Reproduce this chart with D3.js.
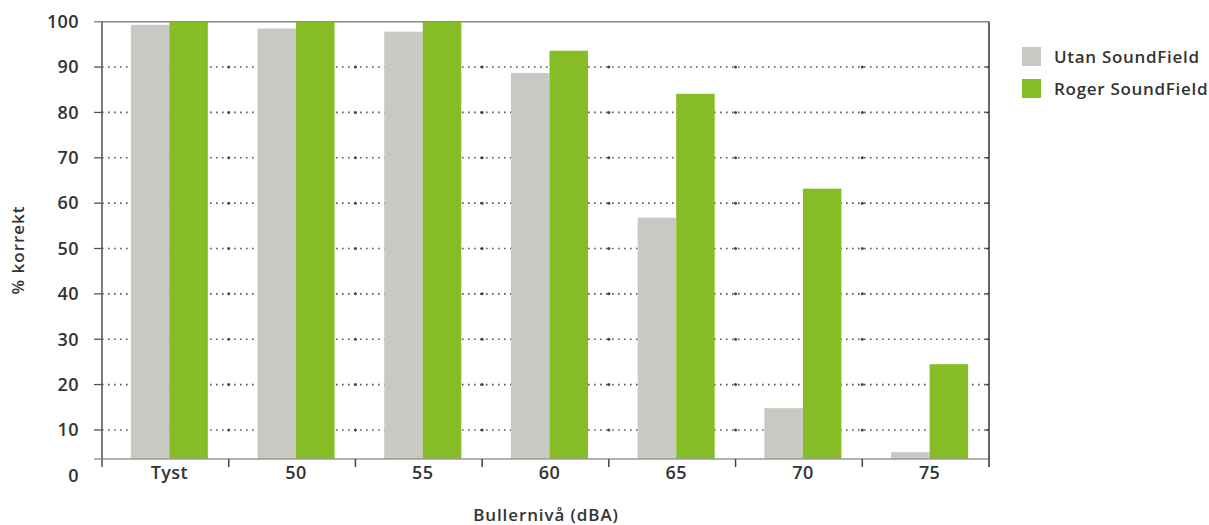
<!DOCTYPE html>
<html><head><meta charset="utf-8">
<script src="https://cdn.jsdelivr.net/npm/d3@7/dist/d3.min.js"></script>
<style>
html,body{margin:0;padding:0;background:#fff;}
text{font-family:"Open Sans","Noto Sans",sans-serif;font-weight:600;fill:#333;}
</style></head>
<body><svg id="chart" width="1209" height="525"></svg>
<script>
const categories = ["Tyst","50","55","60","65","70","75"];
const seriesNames = ["Utan SoundField","Roger SoundField"];
const utanValues = [99.3,98.5,97.8,88.7,56.8,14.8,5.1];
const rogerValues = [100,100,100,93.6,84.1,63.2,24.5];
const yTickValues = [0,10,20,30,40,50,60,70,80,90,100];
const axisFloor = 3.6;
const colors = ["#c9c9c4","#86bc25"];

const svg = d3.select("#chart");
const left = 102, right = 989;
const y = d3.scaleLinear().domain([0,100]).range([475.3,21.7]);
const x0 = d3.scaleBand().domain(categories).range([left,right]).padding(0);
const x1 = d3.scaleBand().domain(seriesNames).range([0,x0.bandwidth()])
  .paddingInner(0).paddingOuter(0.645).align(0.58);

const base = y(axisFloor);
const g = svg.append("g");

// dotted gridlines
const gridVals = yTickValues.filter(v=>v>0 && v<100);
g.selectAll("line.grid").data(gridVals).enter().append("line")
  .attr("x1",left).attr("x2",right).attr("y1",d=>y(d)).attr("y2",d=>y(d))
  .attr("stroke","#555").attr("stroke-width",1.6).attr("stroke-dasharray","1.6,4.4");
const bounds = categories.slice(1).map(c=>x0(c));
gridVals.forEach(v=>{
  g.selectAll(null).data(bounds).enter().append("circle")
    .attr("cx",d=>d).attr("cy",y(v)).attr("r",1.5).attr("fill","#444");
});

// top line
g.append("line").attr("x1",left-8).attr("x2",right).attr("y1",y(100)).attr("y2",y(100))
  .attr("stroke","#8a8a8a").attr("stroke-width",1.5);

// bars
const data = categories.map((c,i)=>({cat:c, vals:[utanValues[i],rogerValues[i]]}));
const grp = g.selectAll("g.grp").data(data).enter().append("g")
  .attr("transform",d=>`translate(${x0(d.cat)},0)`);
grp.selectAll("rect").data(d=>d.vals.map((v,j)=>({s:seriesNames[j],v,j}))).enter().append("rect")
  .attr("x",d=>x1(d.s)).attr("width",x1.bandwidth())
  .attr("y",d=>y(d.v)).attr("height",d=>base-y(d.v))
  .attr("fill",d=>colors[d.j]);

// baseline
g.append("line").attr("x1",left-8).attr("x2",right).attr("y1",base).attr("y2",base)
  .attr("stroke","#9a9a9a").attr("stroke-width",1.6);

// left axis line & ticks
g.append("line").attr("x1",left).attr("x2",left).attr("y1",y(100)).attr("y2",base+8)
  .attr("stroke","#6e6e6e").attr("stroke-width",1.8);
g.selectAll("line.ytick").data(gridVals).enter().append("line")
  .attr("x1",left-8).attr("x2",left).attr("y1",d=>y(d)).attr("y2",d=>y(d))
  .attr("stroke","#555").attr("stroke-width",1.3);
// right axis line
g.append("line").attr("x1",right).attr("x2",right).attr("y1",y(100)).attr("y2",base+8)
  .attr("stroke","#333").attr("stroke-width",1.5);
g.selectAll("line.rtick").data(gridVals).enter().append("line")
  .attr("x1",right-3).attr("x2",right).attr("y1",d=>y(d)).attr("y2",d=>y(d))
  .attr("stroke","#333").attr("stroke-width",1.5);

// bottom ticks
g.selectAll("line.xtick").data(bounds).enter().append("line")
  .attr("x1",d=>d).attr("x2",d=>d).attr("y1",base).attr("y2",base+8)
  .attr("stroke","#444").attr("stroke-width",1.5);

// y labels
g.selectAll("text.ylab").data(yTickValues).enter().append("text")
  .attr("x",79).attr("y",d=>y(d)).attr("dy","0.35em").attr("text-anchor","end")
  .attr("font-size",18).attr("letter-spacing","0.4px").text(d=>d);

// x labels
g.selectAll("text.xlab").data(categories).enter().append("text")
  .attr("x",d=>x0(d)+x1(seriesNames[1])).attr("y",base+14).attr("dy","0.35em")
  .attr("text-anchor","middle").attr("font-size",18).attr("letter-spacing","0.4px").text(d=>d);

// axis titles
svg.append("text").attr("transform","translate(18,250) rotate(-90)")
  .attr("text-anchor","middle").attr("dy","0.35em").attr("font-size",17)
  .attr("letter-spacing","1px").text("% korrekt");
svg.append("text").attr("x",546).attr("y",515).attr("dy","0.35em")
  .attr("text-anchor","middle").attr("font-size",17).attr("letter-spacing","0.9px").text("Bullernivå (dBA)");

// legend
const leg = svg.append("g").attr("transform","translate(1022,47)");
const li = leg.selectAll("g").data(seriesNames).enter().append("g")
  .attr("transform",(d,i)=>`translate(0,${i*32})`);
li.append("rect").attr("width",19).attr("height",19).attr("fill",(d,i)=>colors[i]);
li.append("text").attr("x",32).attr("y",10).attr("dy","0.35em").attr("font-size",17)
  .attr("letter-spacing","0.7px").text(d=>d);
</script></body></html>
